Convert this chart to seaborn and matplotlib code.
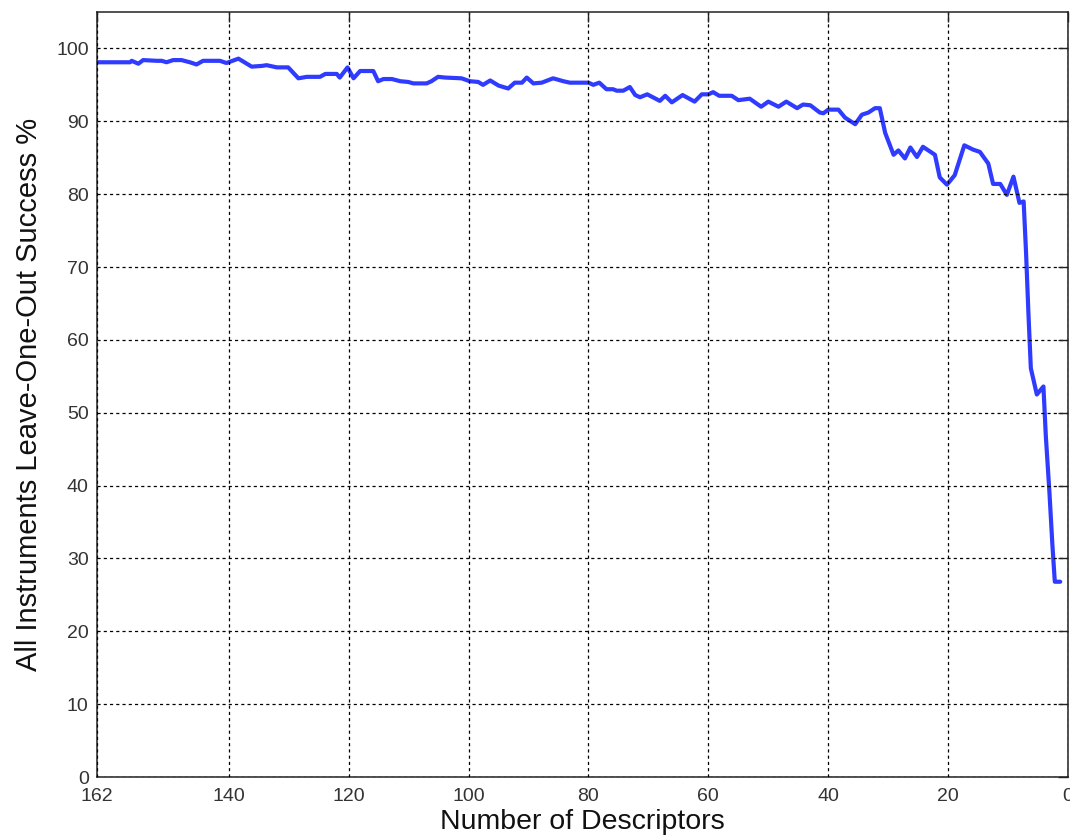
import matplotlib
matplotlib.use("Agg")
import matplotlib.pyplot as plt
import seaborn as sns
import pandas as pd

# Number of descriptors (x) and leave-one-out success % (y)
descriptors = [
    162.0, 156.5, 156.2, 155.1, 154.3, 152.0, 151.2, 150.4, 149.3, 147.9,
    146.5, 145.4, 144.3, 141.5, 140.4, 138.4, 136.2, 134.5, 133.7, 132.0,
    130.1, 128.4, 127.0, 124.8, 123.9, 122.0, 121.5, 120.2, 119.2, 118.1,
    115.9, 115.1, 114.2, 112.8, 111.4, 110.1, 109.2, 107.0, 106.2, 105.1,
    103.9, 101.2, 99.8, 98.4, 97.6, 96.4, 95.0, 93.4, 92.3, 91.1,
    90.3, 89.2, 87.8, 85.9, 84.2, 83.1, 80.0, 79.2, 78.2, 77.0,
    75.9, 75.3, 74.2, 73.1, 72.2, 71.4, 70.2, 68.1, 67.2, 66.1,
    64.3, 62.3, 61.1, 60.0, 59.2, 58.2, 56.1, 55.0, 53.1, 51.2,
    50.0, 48.3, 47.0, 45.2, 44.2, 43.0, 41.4, 40.8, 40.0, 38.3,
    37.2, 35.5, 34.4, 33.3, 32.2, 31.4, 30.5, 29.1, 28.3, 27.2,
    26.3, 25.2, 24.2, 22.2, 21.4, 20.2, 18.9, 17.3, 15.8, 14.7,
    13.3, 12.5, 11.3, 10.2, 9.1, 8.1, 7.4, 7.0, 6.6, 6.2,
    5.2, 4.1, 3.7, 3.1, 2.6, 2.2, 1.3,
]
success = [
    98.1, 98.1, 98.3, 97.9, 98.4, 98.3, 98.3, 98.1, 98.4, 98.4,
    98.1, 97.8, 98.3, 98.3, 98.0, 98.6, 97.5, 97.6, 97.7, 97.4,
    97.4, 95.9, 96.1, 96.1, 96.5, 96.5, 96.0, 97.4, 95.9, 96.9,
    96.9, 95.5, 95.8, 95.8, 95.5, 95.4, 95.2, 95.2, 95.5, 96.1,
    96.0, 95.9, 95.5, 95.4, 95.0, 95.6, 94.9, 94.5, 95.3, 95.3,
    96.0, 95.2, 95.3, 95.9, 95.5, 95.3, 95.3, 95.0, 95.3, 94.4,
    94.4, 94.2, 94.2, 94.7, 93.6, 93.3, 93.7, 92.8, 93.5, 92.6,
    93.6, 92.7, 93.7, 93.7, 94.0, 93.5, 93.5, 92.9, 93.1, 92.0,
    92.7, 92.0, 92.7, 91.8, 92.3, 92.2, 91.2, 91.1, 91.6, 91.6,
    90.5, 89.6, 90.9, 91.2, 91.8, 91.8, 88.4, 85.4, 86.0, 84.9,
    86.4, 85.1, 86.5, 85.4, 82.3, 81.3, 82.6, 86.7, 86.1, 85.8,
    84.2, 81.4, 81.4, 79.9, 82.4, 78.8, 79.0, 72.0, 63.6, 56.1,
    52.5, 53.6, 46.8, 39.1, 31.8, 26.8, 26.8,
]
x_ticks = [162, 140, 120, 100, 80, 60, 40, 20, 0]
y_ticks = [0, 10, 20, 30, 40, 50, 60, 70, 80, 90, 100]

df = pd.DataFrame({"descriptors": descriptors, "success": success})

sns.set_style("white")
plt.rcParams["font.family"] = ["Liberation Sans", "DejaVu Sans"]

W, H = 1070, 840
fig = plt.figure(figsize=(W / 100, H / 100), dpi=100)
left, right, top, bottom = 97, 1068, 12, 777
ax = fig.add_axes([left / W, 1 - bottom / H, (right - left) / W, (bottom - top) / H])

sns.lineplot(data=df, x="descriptors", y="success", ax=ax,
             color="#2f3cff", linewidth=3.0, sort=False, estimator=None)

ax.set_xlim(162, 0)
ax.set_ylim(0, 105)
ax.set_xticks(x_ticks)
ax.set_xticklabels([str(t) for t in x_ticks])
ax.set_yticks(y_ticks)
ax.set_yticklabels([str(t) for t in y_ticks])

ax.grid(True, color="black", linestyle=(0, (2.5, 2.5)), linewidth=0.9)
ax.set_axisbelow(False)

for s in ax.spines.values():
    s.set_visible(True)
    s.set_color("#222222")
    s.set_linewidth(1.1)

ax.tick_params(direction="in", length=7, width=1.0, colors="#222222",
               labelsize=14, top=True, right=True, labelcolor="#333333")
ax.tick_params(axis="x", pad=8)
ax.tick_params(axis="y", pad=6)

ax.set_xlabel("Number of Descriptors", fontsize=20.5, color="#111111")
ax.set_ylabel("All Instruments Leave-One-Out Success %", fontsize=21, color="#111111")
ax.xaxis.set_label_coords(0.5, -0.042)
ax.yaxis.set_label_coords(-0.056, 0.5)

fig.savefig("out.png", dpi=100, facecolor="white")
